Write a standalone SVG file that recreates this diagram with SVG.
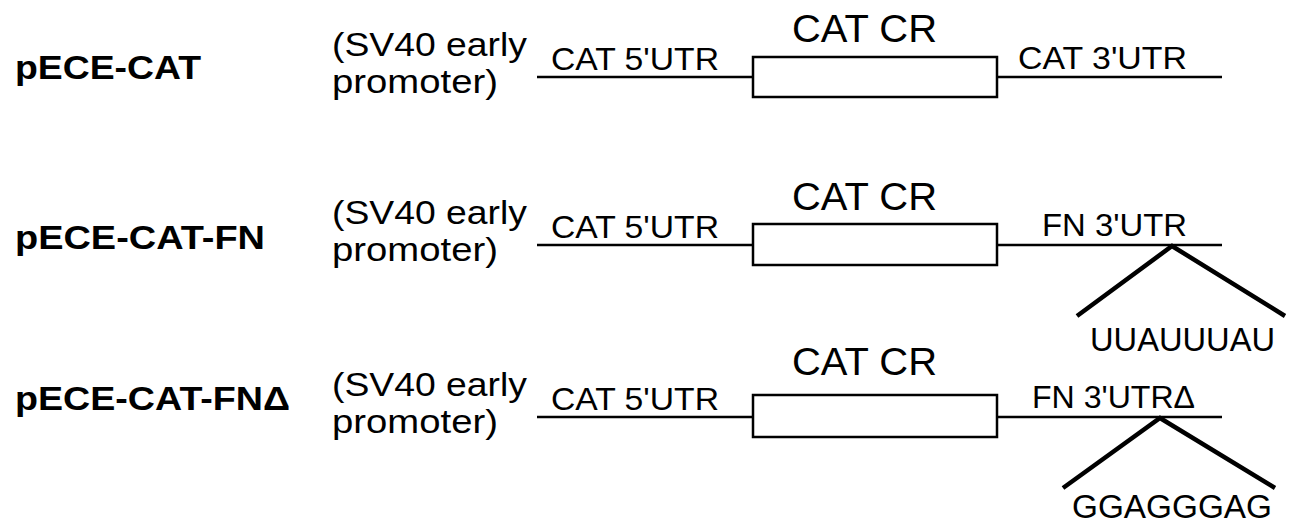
<svg xmlns="http://www.w3.org/2000/svg" width="1291" height="526" viewBox="0 0 1291 526">
  <style>
    .name { font-family: "Liberation Sans", Arial, sans-serif; font-weight: bold; font-size: 34px; fill: #000; }
    .prom { font-family: "Liberation Sans", Arial, sans-serif; font-size: 33px; fill: #000; }
    .utr  { font-family: "Liberation Sans", Arial, sans-serif; font-size: 32px; fill: #000; }
    .cr   { font-family: "Liberation Sans", Arial, sans-serif; font-size: 39px; fill: #000; }
    .seq  { font-family: "Liberation Sans", Arial, sans-serif; font-size: 34px; fill: #000; }
    .ln   { stroke: #000; stroke-width: 2.5; fill: none; }
    .box  { stroke: #000; stroke-width: 2.5; fill: #fff; }
    .leg  { stroke: #000; stroke-width: 4.5; fill: none; }
  </style>

  <!-- construct 1 -->
  <g id="pECE-CAT">
    <text class="name" x="15" y="79" textLength="186" lengthAdjust="spacingAndGlyphs">pECE-CAT</text>
    <text class="prom" x="332" y="56" textLength="195" lengthAdjust="spacingAndGlyphs">(SV40 early</text>
    <text class="prom" x="332" y="93" textLength="166" lengthAdjust="spacingAndGlyphs">promoter)</text>
    <text class="utr" x="551" y="70" textLength="168" lengthAdjust="spacingAndGlyphs">CAT 5'UTR</text>
    <text class="cr" x="792" y="42" textLength="145" lengthAdjust="spacingAndGlyphs">CAT CR</text>
    <rect class="box" x="753" y="57" width="244" height="40"/>
    <text class="utr" x="1018" y="69" textLength="169" lengthAdjust="spacingAndGlyphs">CAT 3'UTR</text>
  </g>

  <!-- construct 2 -->
  <g id="pECE-CAT-FN">
    <text class="name" x="15" y="249" textLength="250" lengthAdjust="spacingAndGlyphs">pECE-CAT-FN</text>
    <text class="prom" x="332" y="224" textLength="195" lengthAdjust="spacingAndGlyphs">(SV40 early</text>
    <text class="prom" x="332" y="261" textLength="166" lengthAdjust="spacingAndGlyphs">promoter)</text>
    <text class="utr" x="551" y="238" textLength="168" lengthAdjust="spacingAndGlyphs">CAT 5'UTR</text>
    <text class="cr" x="792" y="210" textLength="145" lengthAdjust="spacingAndGlyphs">CAT CR</text>
    <rect class="box" x="753" y="224" width="244" height="41"/>
    <text class="utr" x="1042" y="236" textLength="145" lengthAdjust="spacingAndGlyphs">FN 3'UTR</text>
    <text class="seq" x="1090" y="351" textLength="185" lengthAdjust="spacingAndGlyphs">UUAUUUAU</text>
  </g>

  <!-- construct 3 -->
  <g id="pECE-CAT-FNdelta">
    <text class="name" x="15" y="410" textLength="275" lengthAdjust="spacingAndGlyphs">pECE-CAT-FNΔ</text>
    <text class="prom" x="332" y="396" textLength="195" lengthAdjust="spacingAndGlyphs">(SV40 early</text>
    <text class="prom" x="332" y="433" textLength="166" lengthAdjust="spacingAndGlyphs">promoter)</text>
    <text class="utr" x="551" y="410" textLength="168" lengthAdjust="spacingAndGlyphs">CAT 5'UTR</text>
    <text class="cr" x="792" y="375" textLength="145" lengthAdjust="spacingAndGlyphs">CAT CR</text>
    <rect class="box" x="753" y="395" width="244" height="42"/>
    <text class="utr" x="1032" y="408" textLength="163" lengthAdjust="spacingAndGlyphs">FN 3'UTRΔ</text>
    <text class="seq" x="1072" y="518" textLength="200" lengthAdjust="spacingAndGlyphs">GGAGGGAG</text>
  </g>

  <!-- backbone lines and insertion legs -->
  <g id="connectors">
    <line class="ln" x1="537" y1="77" x2="753" y2="77"/>
    <line class="ln" x1="997" y1="77" x2="1222" y2="77"/>
    <line class="ln" x1="537" y1="245" x2="753" y2="245"/>
    <line class="ln" x1="997" y1="245" x2="1222" y2="245"/>
    <polyline class="leg" points="1077,316 1172,246 1285,316"/>
    <line class="ln" x1="537" y1="417" x2="753" y2="417"/>
    <line class="ln" x1="997" y1="417" x2="1222" y2="417"/>
    <polyline class="leg" points="1063,488 1160,418 1275,488"/>
  </g>
</svg>
